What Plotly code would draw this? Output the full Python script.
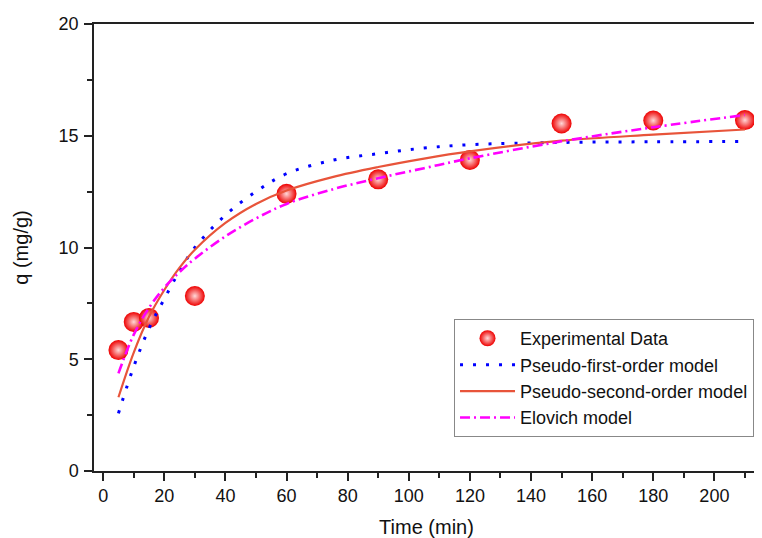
import plotly.graph_objects as go

# Experimental data
time_exp = [5, 10, 15, 30, 60, 90, 120, 150, 180, 210]
q_exp = [5.41, 6.67, 6.85, 7.83, 12.40, 13.05, 13.92, 15.55, 15.68, 15.70]

# Model curves
time_model = [5, 10, 15, 20, 25, 30, 40, 50, 60, 75, 90, 105, 120, 150, 180, 210]
q_pfo = [2.58, 4.67, 6.38, 7.70, 8.95, 10.00, 11.45, 12.50, 13.30, 13.90, 14.20, 14.45, 14.60, 14.70, 14.73, 14.74]
q_pso = [3.30, 5.30, 6.90, 8.10, 9.10, 9.90, 11.10, 11.95, 12.55, 13.15, 13.60, 13.98, 14.30, 14.78, 15.05, 15.28]
q_elo = [4.37, 6.10, 7.30, 8.20, 8.90, 9.50, 10.50, 11.30, 11.95, 12.60, 13.10, 13.55, 13.99, 14.75, 15.38, 15.93]

x_ticks = list(range(0, 201, 20))
y_ticks = [0, 5, 10, 15, 20]

FONT = "Liberation Sans, Arial, sans-serif"

fig = go.Figure()
fig.add_trace(go.Scatter(
    x=time_exp, y=q_exp, mode="markers", name="Experimental Data",
    marker=dict(size=20, color="#ee0000",
                gradient=dict(type="radial", color="#ffd8d8"),
                line=dict(width=0)),
    cliponaxis=False,
))
fig.add_trace(go.Scatter(
    x=time_model, y=q_pfo, mode="lines", name="Pseudo-first-order model",
    line=dict(color="#0000ff", width=3, dash="3px,10px", shape="spline"),
))
fig.add_trace(go.Scatter(
    x=time_model, y=q_pso, mode="lines", name="Pseudo-second-order model",
    line=dict(color="#e8543a", width=2.2, shape="spline"),
))
fig.add_trace(go.Scatter(
    x=time_model, y=q_elo, mode="lines", name="Elovich model",
    line=dict(color="#ff00ff", width=2.6, dash="10px,4px,2px,4px", shape="spline"),
))

axis_common = dict(
    showline=True, linecolor="#222", linewidth=1.5, mirror=True,
    ticks="outside", ticklen=8, tickwidth=1.5, tickcolor="#222",
    showgrid=False, zeroline=False, automargin=False,
    tickfont=dict(family=FONT, size=18, color="#111"),
)

fig.update_xaxes(
    range=[-3, 214.6], tickvals=x_ticks,
    minor=dict(ticks="outside", ticklen=5, tickwidth=1.5, tickcolor="#222", dtick=10, tick0=0),
    title=dict(text="Time (min)", font=dict(family=FONT, size=20, color="#111"), standoff=15),
    **axis_common,
)
fig.update_yaxes(
    range=[0, 20], tickvals=y_ticks, ticklabelstandoff=2,
    minor=dict(ticks="outside", ticklen=5, tickwidth=1.5, tickcolor="#222", dtick=2.5, tick0=0),
    title=dict(text="q (mg/g)", font=dict(family=FONT, size=20, color="#111"), standoff=25),
    **axis_common,
)

# The page body adds an 8px offset, so the figure is 8px smaller and margins shifted
fig.update_layout(
    width=754, height=530,
    margin=dict(l=86, r=3, t=16, b=67),
    paper_bgcolor="white", plot_bgcolor="white",
    showlegend=True,
    legend=dict(
        x=0.9925, y=0.076, xanchor="right", yanchor="bottom",
        bgcolor="white", bordercolor="#888", borderwidth=1,
        font=dict(family=FONT, size=18, color="#111"),
        itemwidth=55, tracegroupgap=0,
    ),
)

fig.write_html("out.html")
